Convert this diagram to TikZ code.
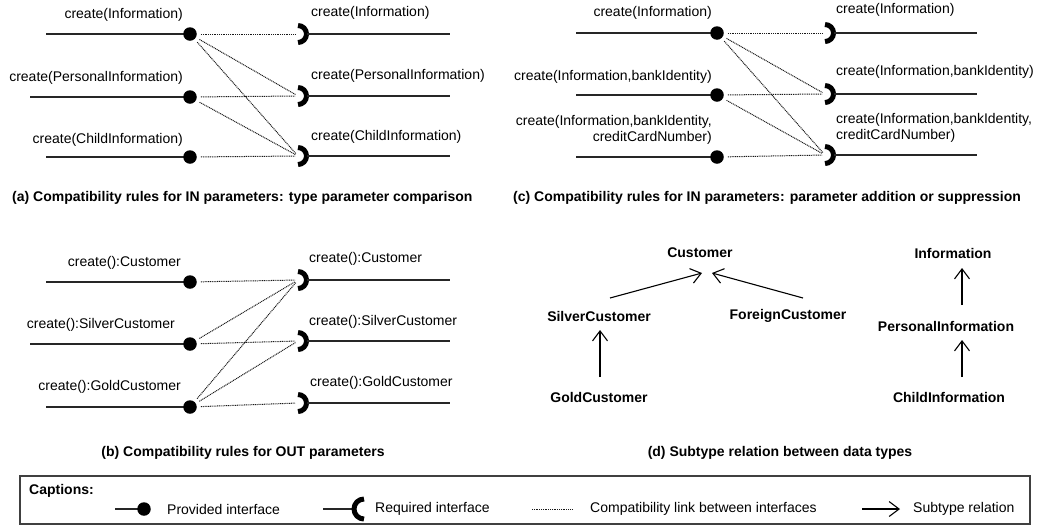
\documentclass[tikz,border=0pt]{standalone}
\usepackage{fontspec}
\setmainfont{Liberation Sans}
\usetikzlibrary{arrows.meta}
\tikzset{
 wire/.style={line width=1.1pt, black!85},
 pdot/.style={circle, fill=black, inner sep=0pt, minimum size=13.5pt},
 link/.style={line width=1pt, dash pattern=on 1pt off 0.8pt, black!90, shorten <=4pt, shorten >=3pt},
 reqarc/.style={line width=5pt, black},
 lbl/.style={font=\fontsize{14}{16}\selectfont, inner sep=0pt},
 captxt/.style={font=\bfseries\fontsize{14}{16}\selectfont, inner sep=0pt},
 tname/.style={font=\bfseries\fontsize{14}{16}\selectfont, inner sep=0pt},
 sub/.style={line width=1.1pt, -{Straight Barb[length=10pt,width=15pt,line width=1.1pt]}},
}
\newcommand{\provif}[4]{\draw[wire] (#2,#4) -- (#3,#4); \node[pdot] (#1) at (#3,#4) {};}
\newcommand{\reqif}[4]{\coordinate (#1) at (#2,#3); \draw[reqarc] ([shift={(0,-8.5)}]#1) arc[start angle=90,end angle=-90,radius=8.5pt]; \draw[wire] ([shift={(9,0)}]#1) -- (#4,#3);}
\begin{document}
\begin{tikzpicture}[x=1pt,y=-1pt]
\useasboundingbox (0,0) rectangle (1044,528);
% ---------- (a)
\provif{pa1}{46}{190}{34}
\provif{pa2}{30}{190}{97}
\provif{pa3}{46}{190}{157}
\reqif{ra1}{298}{34}{450}
\reqif{ra2}{298}{96}{450}
\reqif{ra3}{298}{156}{450}
\draw[link] (pa1) -- (ra1);
\draw[link] (pa1) -- (ra2);
\draw[link] (pa1) -- (ra3);
\draw[link] (pa2) -- (ra2);
\draw[link] (pa2) -- (ra3);
\draw[link] (pa3) -- (ra3);
\node[lbl, anchor=east] (la1) at (183,15) {create(Information)};
\node[lbl, anchor=east] (la2) at (183,78) {create(PersonalInformation)};
\node[lbl, anchor=east] (la3) at (183,140) {create(ChildInformation)};
\node[lbl, anchor=west] (lra1) at (311,13) {create(Information)};
\node[lbl, anchor=west] (lra2) at (311,76) {create(PersonalInformation)};
\node[lbl, anchor=west] (lra3) at (311,137) {create(ChildInformation)};
\node[captxt, anchor=west] (capa) at (12,198) {(a) Compatibility rules for IN parameters: type parameter comparison};
% ---------- (c)
\provif{pc1}{576}{717}{33}
\provif{pc2}{576}{717}{95}
\provif{pc3}{576}{717}{157}
\reqif{rc1}{825}{33}{977}
\reqif{rc2}{825}{94}{977}
\reqif{rc3}{825}{155}{977}
\draw[link] (pc1) -- (rc1);
\draw[link] (pc1) -- (rc2);
\draw[link] (pc1) -- (rc3);
\draw[link] (pc2) -- (rc2);
\draw[link] (pc2) -- (rc3);
\draw[link] (pc3) -- (rc3);
\node[lbl, anchor=east] (lc1) at (712,13) {create(Information)};
\node[lbl, anchor=east] (lc2) at (712,77) {create(Information,bankIdentity)};
\node[lbl, anchor=east, align=right] (lc3) at (712,130) {create(Information,bankIdentity,\\creditCardNumber)};
\node[lbl, anchor=west] (lrc1) at (836,10) {create(Information)};
\node[lbl, anchor=west] (lrc2) at (836,72) {create(Information,bankIdentity)};
\node[lbl, anchor=west, align=left] (lrc3) at (836,128) {create(Information,bankIdentity,\\creditCardNumber)};
\node[captxt, anchor=west] (capc) at (513,198) {(c) Compatibility rules for IN parameters: parameter addition or suppression};
% ---------- (b)
\provif{pb1}{46}{190}{282}
\provif{pb2}{30}{190}{344}
\provif{pb3}{46}{190}{407}
\reqif{rb1}{298}{280}{450}
\reqif{rb2}{298}{341}{450}
\reqif{rb3}{298}{403}{450}
\draw[link] (pb1) -- (rb1);
\draw[link] (pb2) -- (rb1);
\draw[link] (pb2) -- (rb2);
\draw[link] (pb3) -- (rb1);
\draw[link] (pb3) -- (rb2);
\draw[link] (pb3) -- (rb3);
\node[lbl, anchor=east] (lb1) at (181,263) {create():Customer};
\node[lbl, anchor=east] (lb2) at (175,325) {create():SilverCustomer};
\node[lbl, anchor=east] (lb3) at (181,387) {create():GoldCustomer};
\node[lbl, anchor=west] (lrb1) at (309,259) {create():Customer};
\node[lbl, anchor=west] (lrb2) at (309,322) {create():SilverCustomer};
\node[lbl, anchor=west] (lrb3) at (310,383) {create():GoldCustomer};
\node[captxt] (capb) at (243,453) {(b) Compatibility rules for OUT parameters};
% ---------- (d)
\node[tname] (customer) at (700,253) {Customer};
\node[tname] (silver) at (599,316) {SilverCustomer};
\node[tname] (foreign) at (788,316) {ForeignCustomer};
\node[tname] (gold) at (599,397) {GoldCustomer};
\node[tname] (info) at (953,253) {Information};
\node[tname] (personal) at (946,326) {PersonalInformation};
\node[tname] (child) at (949,397) {ChildInformation};
\draw[sub] ([shift={(11,-18)}]silver.center) -- ([shift={(2,20)}]customer.center);
\draw[sub] ([shift={(15,-18)}]foreign.center) -- ([shift={(12,20)}]customer.center);
\draw[sub] ([shift={(1,-20)}]gold.center) -- ([shift={(1,14)}]silver.center);
\draw[sub] ([shift={(16,-21)}]personal.center) -- ([shift={(9,15)}]info.center);
\draw[sub] ([shift={(13,-20)}]child.center) -- ([shift={(16,14)}]personal.center);
\node[captxt] (capd) at (780,453) {(d) Subtype relation between data types};
% ---------- legend
\draw[line width=1.2pt, black!75] (20,476) rectangle (1030,524);
\node[captxt, anchor=west] (captions) at (29,491) {Captions:};
\provif{lgp}{115}{144}{509}
\node[lbl, anchor=west] (lgpt) at (167,509) {Provided interface};
\coordinate (lgr) at (364,509);
\draw[wire] (323,509) -- ([shift={(-10,0)}]lgr);
\draw[reqarc] ([shift={(0,-10)}]lgr) arc[start angle=90,end angle=270,radius=10pt];
\node[lbl, anchor=west] (lgrt) at (375,509) {Required interface};
\coordinate (lgl1) at (532,509);
\coordinate (lgl2) at (572,509);
\draw[link, shorten <=0pt, shorten >=0pt] (lgl1) -- (lgl2);
\node[lbl, anchor=west] (lglt) at (590,509) {Compatibility link between interfaces};
\coordinate (lgs1) at (862,509);
\coordinate (lgs2) at (900,509);
\draw[sub] (lgs1) -- (lgs2);
\node[lbl, anchor=west] (lgst) at (913,509) {Subtype relation};
\end{tikzpicture}
\end{document}
